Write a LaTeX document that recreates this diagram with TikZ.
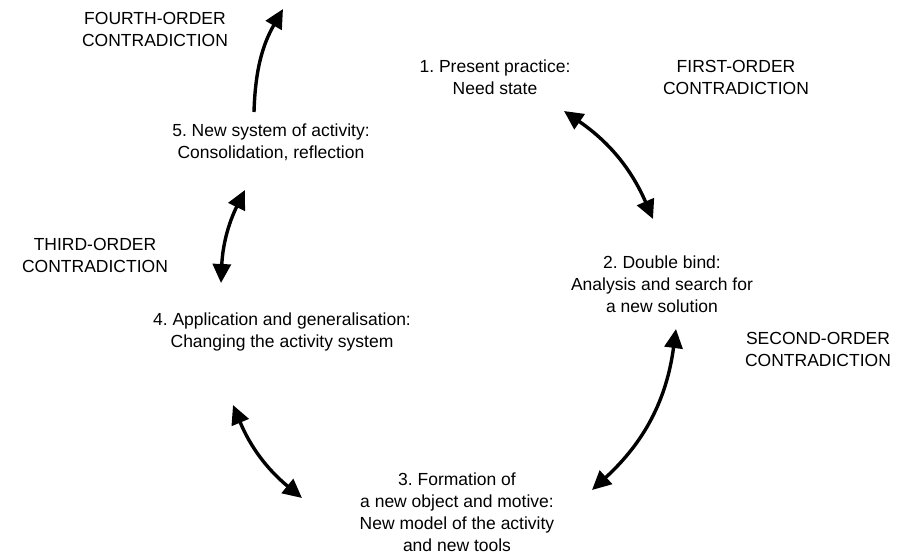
\documentclass[tikz,border=0pt]{standalone}
\usepackage{fontspec}
\setmainfont{Liberation Sans}
\usetikzlibrary{arrows.meta}
\frenchspacing
\begin{document}
\begin{tikzpicture}[x=1pt,y=1pt,
  label text/.style={align=center, inner sep=0pt, font=\fontsize{17.5}{22}\selectfont},
  cycle arrow/.style={line width=3.4pt, {Triangle[length=19pt,width=18pt]}-{Triangle[length=19pt,width=18pt]}},
  exit arrow/.style={line width=3.4pt, -{Triangle[length=19pt,width=18pt]}}]
\useasboundingbox (0,0) rectangle (900,-558);

% stages of the cycle
\node[label text] (s1) at (495,-77)  {1. Present practice:\\Need state};
\node[label text] (s2) at (662,-284) {2. Double bind:\\Analysis and search for\\a new solution};
\node[label text] (s3) at (457,-512) {3. Formation of\\a new object and motive:\\New model of the activity\\and new tools};
\node[label text] (s4) at (282,-332) {4. Application and generalisation:\\Changing the activity system};
\node[label text] (s5) at (271,-142) {5. New system of activity:\\Consolidation, reflection};

% contradictions
\node[label text] (c1) at (736,-77)  {FIRST-ORDER\\CONTRADICTION};
\node[label text] (c2) at (818,-349) {SECOND-ORDER\\CONTRADICTION};
\node[label text] (c3) at (95,-255)  {THIRD-ORDER\\CONTRADICTION};
\node[label text] (c4) at (155,-29)  {FOURTH-ORDER\\CONTRADICTION};

% arrow end points
\coordinate (a1s) at (564,-111);
\coordinate (a1e) at (653,-219);
\coordinate (a2s) at (676,-329);
\coordinate (a2e) at (592,-490);
\coordinate (a3s) at (302,-498);
\coordinate (a3e) at (233,-405);
\coordinate (a4s) at (221,-283);
\coordinate (a4e) at (245,-190);
\coordinate (a5s) at (254,-112);
\coordinate (a5e) at (283,-9);

\draw[cycle arrow] (a1s) to[bend left=16] (a1e);
\draw[cycle arrow] (a2s) to[bend left=20] (a2e);
\draw[cycle arrow] (a3s) to[bend left=14] (a3e);
\draw[cycle arrow] (a4s) to[bend left=12] (a4e);
\draw[exit arrow]  (a5s) to[bend left=14] (a5e);
\end{tikzpicture}
\end{document}
